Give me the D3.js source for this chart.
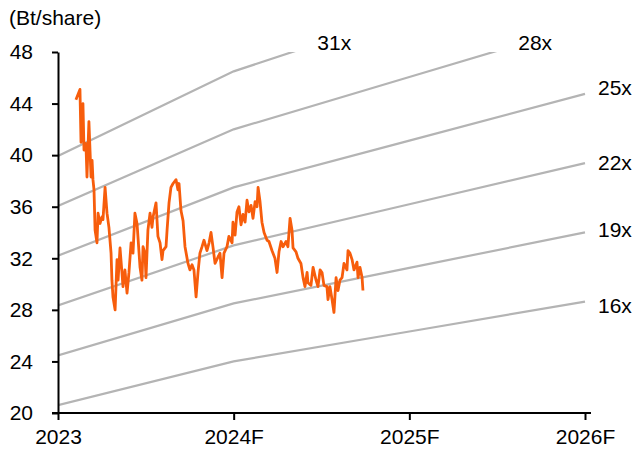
<!DOCTYPE html>
<html>
<head>
<meta charset="utf-8">
<script src="https://cdn.jsdelivr.net/npm/d3@7"></script>
<style>
  html, body { margin: 0; padding: 0; background: #fff; }
  text { font-family: "Liberation Sans", Arial, sans-serif; }
</style>
</head>
<body>
<svg id="chart" width="635" height="450"></svg>
<script>
// ---- data ----
const bandYears = [2023, 2024, 2025, 2026];
const xTickLabels = ["2023", "2024F", "2025F", "2026F"];
const epsValues = [1.288, 1.50, 1.645, 1.79];
const multiples = [16, 19, 22, 25, 28, 31];
const multipleLabels = ["16x", "19x", "22x", "25x", "28x", "31x"];
const yTicks = [20, 24, 28, 32, 36, 40, 44, 48];
const yLabel = "(Bt/share)";

const priceYears = [
  2023.102, 2023.125, 2023.131, 2023.142, 2023.148, 2023.159, 2023.165, 2023.176, 2023.188, 2023.194,
  2023.199, 2023.205, 2023.211, 2023.222, 2023.228, 2023.239, 2023.250, 2023.256, 2023.268, 2023.279,
  2023.290, 2023.302, 2023.307, 2023.313, 2023.325, 2023.336, 2023.342, 2023.353, 2023.364, 2023.370,
  2023.381, 2023.393, 2023.404, 2023.416, 2023.427, 2023.438, 2023.450, 2023.455, 2023.467, 2023.478,
  2023.484, 2023.495, 2023.501, 2023.512, 2023.524, 2023.535, 2023.541, 2023.558, 2023.569, 2023.581,
  2023.592, 2023.598, 2023.615, 2023.621, 2023.632, 2023.643, 2023.655, 2023.672, 2023.683, 2023.689,
  2023.700, 2023.712, 2023.723, 2023.740, 2023.751, 2023.763, 2023.774, 2023.786, 2023.797, 2023.808,
  2023.820, 2023.831, 2023.848, 2023.860, 2023.871, 2023.882, 2023.894, 2023.911, 2023.922, 2023.934,
  2023.945, 2023.962, 2023.973, 2023.991, 2023.996, 2024.008, 2024.019, 2024.030, 2024.042, 2024.053,
  2024.065, 2024.076, 2024.087, 2024.099, 2024.110, 2024.122, 2024.133, 2024.139, 2024.150, 2024.161,
  2024.173, 2024.190, 2024.201, 2024.218, 2024.235, 2024.247, 2024.258, 2024.270, 2024.281, 2024.298,
  2024.309, 2024.321, 2024.332, 2024.338, 2024.355, 2024.366, 2024.383, 2024.395, 2024.406, 2024.418,
  2024.423, 2024.440, 2024.452, 2024.469, 2024.480, 2024.492, 2024.503, 2024.514, 2024.531, 2024.537,
  2024.548, 2024.560, 2024.571, 2024.583, 2024.594, 2024.605, 2024.617, 2024.628, 2024.645, 2024.651,
  2024.662, 2024.674, 2024.685, 2024.702, 2024.708, 2024.719, 2024.731, 2024.736
];
const priceValues = [
  44.3, 45.1, 41.0, 44.0, 40.4, 40.9, 38.3, 42.6, 38.3, 39.6,
  38.1, 37.3, 34.2, 33.2, 35.5, 34.7, 35.2, 35.0, 37.5, 35.5,
  34.4, 32.4, 30.3, 29.0, 28.0, 31.9, 30.3, 32.8, 30.9, 29.8,
  31.1, 29.3, 30.9, 33.2, 32.4, 35.5, 34.7, 33.7, 31.3, 30.3,
  32.9, 32.4, 30.5, 34.2, 35.5, 34.4, 35.2, 36.3, 33.7, 33.2,
  31.9, 32.6, 32.9, 34.2, 36.3, 37.5, 37.8, 38.1, 37.3, 37.8,
  35.7, 34.9, 32.9, 31.6, 31.1, 31.5, 31.1, 29.0, 30.9, 32.4,
  32.9, 33.4, 32.6, 33.2, 34.0, 32.9, 31.6, 32.1, 32.4, 30.5,
  32.4, 32.9, 33.7, 33.2, 34.8, 33.8, 35.6, 36.0, 34.6, 35.4,
  34.8, 36.5, 35.6, 36.1, 35.1, 36.4, 36.0, 37.5, 36.4, 34.8,
  34.0, 33.4, 33.3, 32.6, 32.0, 30.9, 32.5, 33.3, 32.9, 33.3,
  32.9, 35.1, 34.2, 32.8, 32.5, 32.0, 31.6, 30.5, 29.8, 30.9,
  30.1, 29.9, 31.3, 30.3, 29.8, 31.1, 30.9, 29.9, 29.8, 28.8,
  29.8, 28.8, 27.8, 30.5, 29.5, 30.3, 30.5, 31.6, 31.1, 32.6,
  32.4, 31.9, 31.1, 31.7, 30.5, 31.3, 30.5, 29.5
];

// ---- chart ----
const svg = d3.select("#chart");
const fontSize = 21;
const fontFam = '"Liberation Sans", Arial, sans-serif';
const x = d3.scaleLinear().domain([2023, 2026]).range([58, 585]);
const y = d3.scaleLinear().domain([20, 48]).range([413, 52]);

svg.append("defs").append("clipPath").attr("id", "plotclip")
  .append("rect")
  .attr("x", x(2023)).attr("y", y(48))
  .attr("width", x(2026) - x(2023) + 10).attr("height", y(20) - y(48));

// small vertical nudges for end labels (layout only)
const endLabelNudge = { "16x": 4, "19x": -3, "22x": 0, "25x": -6 };

// PE band lines
const bandG = svg.append("g");
const lineGen = d3.line().x(d => x(d[0])).y(d => y(d[1]));
multiples.forEach((m, i) => {
  const pts = bandYears.map((yr, j) => [yr, m * epsValues[j]]);
  bandG.append("path")
    .attr("d", lineGen(pts))
    .attr("fill", "none")
    .attr("stroke", "#b4b4b4")
    .attr("stroke-width", 2.2)
    .attr("clip-path", "url(#plotclip)");
  const maxV = 48;
  let lx, ly;
  const last = pts[pts.length - 1];
  if (last[1] <= maxV) {
    lx = x(last[0]) + 13;
    ly = y(last[1]) + (endLabelNudge[multipleLabels[i]] || 0);
  } else {
    for (let k = 0; k < pts.length - 1; k++) {
      if (pts[k][1] <= maxV && pts[k + 1][1] > maxV) {
        const t = (maxV - pts[k][1]) / (pts[k + 1][1] - pts[k][1]);
        const cx = pts[k][0] + t * (pts[k + 1][0] - pts[k][0]);
        lx = x(cx) + 25;
        ly = y(maxV) - 9;
        break;
      }
    }
  }
  bandG.append("text")
    .attr("x", lx).attr("y", ly)
    .attr("dy", "0.35em")
    .attr("font-size", fontSize)
    .attr("font-family", fontFam)
    .attr("fill", "#000")
    .text(multipleLabels[i]);
});

// price line
const priceData = priceYears.map((yr, i) => [yr, priceValues[i]]);
svg.append("path")
  .attr("d", lineGen(priceData))
  .attr("fill", "none")
  .attr("stroke", "#f75d0c")
  .attr("stroke-width", 2.8)
  .attr("stroke-linejoin", "round");

// y axis
const yAxis = svg.append("g")
  .attr("transform", `translate(${x(2023)},0)`)
  .call(d3.axisLeft(y).tickValues(yTicks).tickSize(6).tickSizeOuter(0).tickPadding(19));
yAxis.select(".domain").attr("stroke", "#000").attr("stroke-width", 2);
yAxis.selectAll(".tick line").attr("stroke", "#000").attr("stroke-width", 2);
yAxis.selectAll(".tick text").attr("font-size", fontSize).attr("fill", "#000")
  .attr("font-family", fontFam);

// x axis
const xAxis = svg.append("g")
  .attr("transform", `translate(0,${y(20)})`)
  .call(d3.axisBottom(x).tickValues(bandYears).tickFormat((d, i) => xTickLabels[i])
    .tickSize(7).tickSizeOuter(0).tickPadding(9));
xAxis.select(".domain").remove();
xAxis.append("line")
  .attr("x1", x(2023) - 6).attr("x2", x(2026) + 6)
  .attr("y1", 0).attr("y2", 0)
  .attr("stroke", "#000").attr("stroke-width", 2);
xAxis.selectAll(".tick line").attr("stroke", "#000").attr("stroke-width", 2);
xAxis.selectAll(".tick text").attr("font-size", fontSize).attr("fill", "#000")
  .attr("font-family", fontFam);

// unit label
svg.append("text")
  .attr("x", 9).attr("y", 18)
  .attr("dy", "0.35em")
  .attr("font-size", fontSize)
  .attr("font-family", fontFam)
  .attr("fill", "#000")
  .text(yLabel);
</script>
</body>
</html>
